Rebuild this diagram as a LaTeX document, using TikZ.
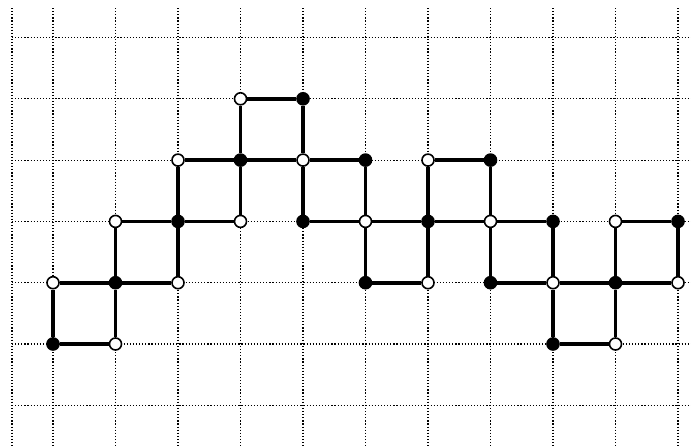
\documentclass[tikz,border=0pt]{standalone}
\begin{document}
\begin{tikzpicture}[x=62.5pt,y=61.3pt,
  gridline/.style={line width=1.2pt,dash pattern=on 1.2pt off 1.9pt},
  edge/.style={line width=3.8pt},
  vtx/.style={circle,draw=black,line width=1.6pt,inner sep=0pt,minimum size=12pt},
  even/.style={vtx,fill=black},
  odd/.style={vtx,fill=white}]
  \useasboundingbox (-0.848,-1.664) rectangle (10.208,5.612);
  % dotted background grid
  \foreach \i in {-0.656,0,1,...,10}
    \draw[gridline] (\i,5.481) -- (\i,-1.664);
  \foreach \j in {-1,0,...,5}
    \draw[gridline] (-0.656,\j) -- (10.208,\j);
  % vertices, coloured by the parity of i+j
  \foreach \i/\j in {0/0,1/0,0/1,1/1,2/1,1/2,2/2,3/2,2/3,3/3,4/3,5/3,3/4,4/4,
                     4/2,5/2,6/2,7/2,8/2,9/2,10/2,6/3,7/3,
                     5/1,6/1,7/1,8/1,9/1,10/1,8/0,9/0}{
    \pgfmathtruncatemacro{\vpar}{mod(\i+\j,2)}
    \ifnum\vpar=0
      \node[even] (v\i-\j) at (\i,\j) {};
    \else
      \node[odd] (v\i-\j) at (\i,\j) {};
    \fi
  }
  % edges between vertices
  \foreach \a/\b in {0-0/1-0,0-0/0-1,1-0/1-1,0-1/1-1,1-1/2-1,1-1/1-2,2-1/2-2,
                     1-2/2-2,2-2/3-2,2-2/2-3,3-2/3-3,2-3/3-3,3-3/4-3,3-3/3-4,
                     3-4/4-4,4-4/4-3,4-3/5-3,4-3/4-2,4-2/5-2,5-3/5-2,5-2/6-2,
                     5-2/5-1,5-1/6-1,6-1/6-2,6-2/6-3,6-3/7-3,7-3/7-2,6-2/7-2,
                     7-2/8-2,7-2/7-1,7-1/8-1,8-2/8-1,8-1/9-1,8-1/8-0,8-0/9-0,
                     9-0/9-1,9-1/10-1,9-1/9-2,9-2/10-2,10-2/10-1}
    \draw[edge] (v\a) -- (v\b);
\end{tikzpicture}
\end{document}
